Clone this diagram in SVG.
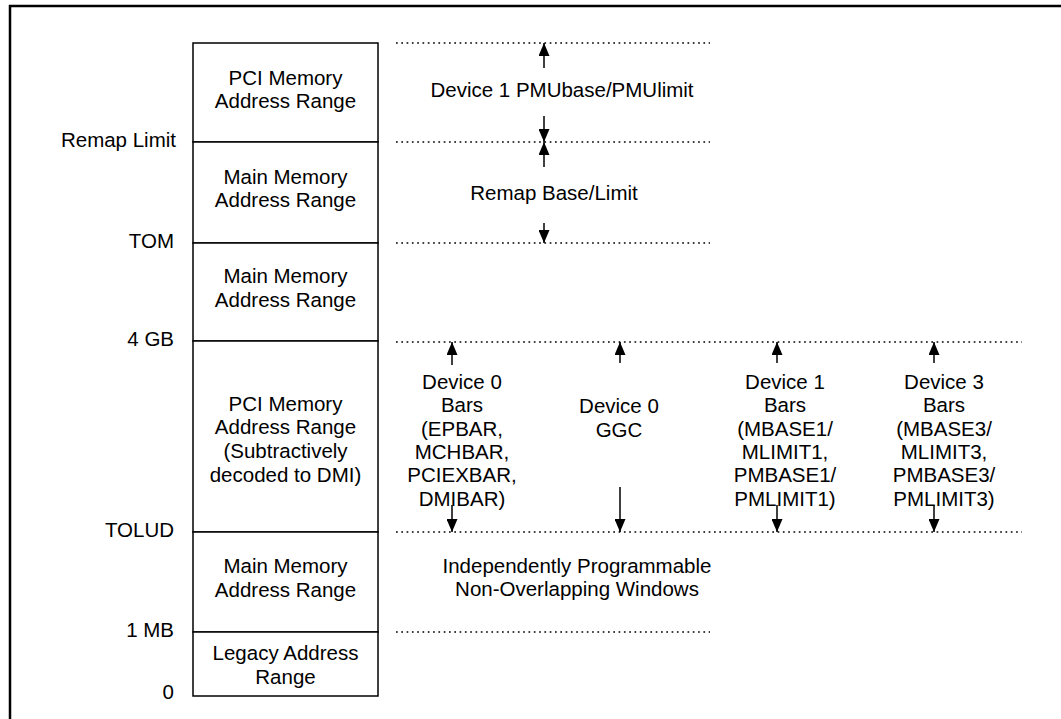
<svg xmlns="http://www.w3.org/2000/svg" width="1061" height="719" viewBox="0 0 1061 719">
<defs>
<marker id="ah" markerUnits="userSpaceOnUse" markerWidth="13" markerHeight="11" refX="13" refY="5.5" orient="auto">
<path d="M0,0 L13,5.5 L0,11 z" fill="#000"/>
</marker>
<style>
text{font-family:"Liberation Sans",Arial,sans-serif;font-size:20.5px;fill:#000}
.c{text-anchor:middle}
.r{text-anchor:end}
.box{fill:#fff;stroke:#000;stroke-width:1.5}
.dot{stroke:#000;stroke-width:1.7;stroke-dasharray:1.7 3.6;fill:none}
.arr{stroke:#000;stroke-width:1.5;marker-end:url(#ah)}
</style>
</defs>
<rect x="0" y="0" width="1061" height="719" fill="#fff"/>
<g id="frame">
<line x1="9" y1="6" x2="1061" y2="6" stroke="#000" stroke-width="2.5"/>
<line x1="10" y1="5" x2="10" y2="719" stroke="#000" stroke-width="2.5"/>
</g>
<g id="labels">
<text class="r" x="176" y="147">Remap Limit</text>
<text class="r" x="174" y="248">TOM</text>
<text class="r" x="174" y="346">4 GB</text>
<text class="r" x="174" y="537">TOLUD</text>
<text class="r" x="174" y="637">1 MB</text>
<text class="r" x="174" y="699">0</text>
</g>
<g id="box-pci-top">
<rect class="box" x="193" y="43" width="185" height="99"/>
<text class="c" x="285.5" y="85">PCI Memory</text>
<text class="c" x="285.5" y="108">Address Range</text>
</g>
<g id="box-main-remap">
<rect class="box" x="193" y="142" width="185" height="101"/>
<text class="c" x="285.5" y="184">Main Memory</text>
<text class="c" x="285.5" y="207">Address Range</text>
</g>
<g id="box-main-4gb">
<rect class="box" x="193" y="243" width="185" height="98"/>
<text class="c" x="285.5" y="283">Main Memory</text>
<text class="c" x="285.5" y="307">Address Range</text>
</g>
<g id="box-pci-low">
<rect class="box" x="193" y="341" width="185" height="191"/>
<text class="c" x="285.5" y="411">PCI Memory</text>
<text class="c" x="285.5" y="434">Address Range</text>
<text class="c" x="285.5" y="458">(Subtractively</text>
<text class="c" x="285.5" y="482">decoded to DMI)</text>
</g>
<g id="box-main-low">
<rect class="box" x="193" y="532" width="185" height="100"/>
<text class="c" x="285.5" y="573">Main Memory</text>
<text class="c" x="285.5" y="597">Address Range</text>
</g>
<g id="box-legacy">
<rect class="box" x="193" y="632" width="185" height="64"/>
<text class="c" x="285.5" y="660">Legacy Address</text>
<text class="c" x="285.5" y="684">Range</text>
</g>
<g id="connectors">
<line class="dot" x1="396" y1="43" x2="710" y2="43"/>
<line class="dot" x1="396" y1="142" x2="710" y2="142"/>
<line class="dot" x1="396" y1="243" x2="710" y2="243"/>
<line class="dot" x1="396" y1="342" x2="1022" y2="342"/>
<line class="dot" x1="396" y1="532" x2="1022" y2="532"/>
<line class="dot" x1="396" y1="632" x2="710" y2="632"/>
<line class="arr" x1="544" y1="68" x2="544" y2="43"/>
<line class="arr" x1="544" y1="116" x2="544" y2="142"/>
<line class="arr" x1="544" y1="167" x2="544" y2="142"/>
<line class="arr" x1="544" y1="223" x2="544" y2="243"/>
<line class="arr" x1="452" y1="365" x2="452" y2="342"/>
<line class="arr" x1="620" y1="363" x2="620" y2="342"/>
<line class="arr" x1="777" y1="363" x2="777" y2="342"/>
<line class="arr" x1="934" y1="363" x2="934" y2="342"/>
<line class="arr" x1="452" y1="505" x2="452" y2="532"/>
<line class="arr" x1="620" y1="487" x2="620" y2="532"/>
<line class="arr" x1="777" y1="505" x2="777" y2="532"/>
<line class="arr" x1="934" y1="505" x2="934" y2="532"/>
</g>
<g id="window-pmu">
<text class="c" x="562" y="97">Device 1 PMUbase/PMUlimit</text>
</g>
<g id="window-remap">
<text class="c" x="554" y="200">Remap Base/Limit</text>
</g>
<g id="window-dev0-bars">
<text class="c" x="462" y="389">Device 0</text>
<text class="c" x="462" y="412">Bars</text>
<text class="c" x="462" y="436">(EPBAR,</text>
<text class="c" x="462" y="459">MCHBAR,</text>
<text class="c" x="462" y="482">PCIEXBAR,</text>
<text class="c" x="462" y="506">DMIBAR)</text>
</g>
<g id="window-dev0-ggc">
<text class="c" x="619" y="413">Device 0</text>
<text class="c" x="619" y="437">GGC</text>
</g>
<g id="window-dev1-bars">
<text class="c" x="785" y="389">Device 1</text>
<text class="c" x="785" y="412">Bars</text>
<text class="c" x="785" y="436">(MBASE1/</text>
<text class="c" x="785" y="459">MLIMIT1,</text>
<text class="c" x="785" y="482">PMBASE1/</text>
<text class="c" x="785" y="506">PMLIMIT1)</text>
</g>
<g id="window-dev3-bars">
<text class="c" x="944" y="389">Device 3</text>
<text class="c" x="944" y="412">Bars</text>
<text class="c" x="944" y="436">(MBASE3/</text>
<text class="c" x="944" y="459">MLIMIT3,</text>
<text class="c" x="944" y="482">PMBASE3/</text>
<text class="c" x="944" y="506">PMLIMIT3)</text>
</g>
<g id="note">
<text class="c" x="577" y="573">Independently Programmable</text>
<text class="c" x="577" y="596">Non-Overlapping Windows</text>
</g>
</svg>
